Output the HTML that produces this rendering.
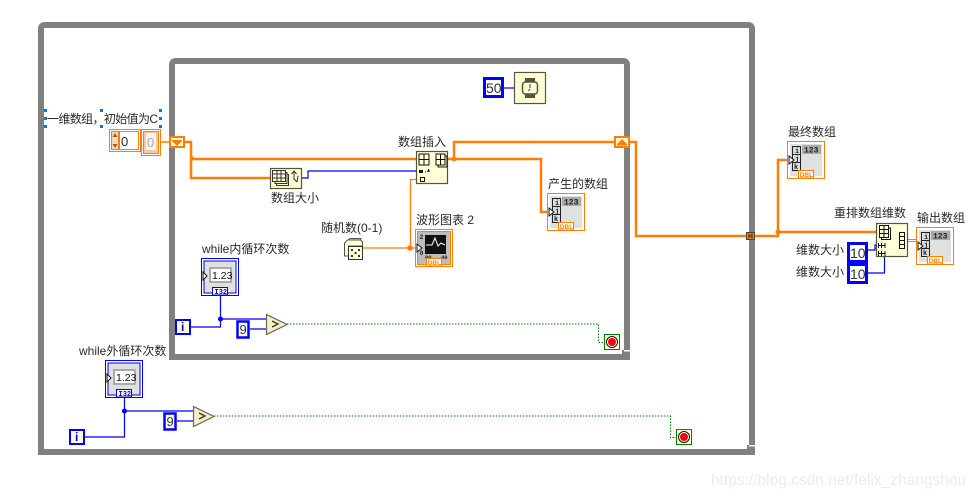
<!DOCTYPE html>
<html><head><meta charset="utf-8"><style>
html,body{margin:0;padding:0;background:#fff}
svg{display:block}
text{font-family:"Liberation Sans","Noto Sans CJK SC",sans-serif;font-size:12px;fill:#2a2a2a}
.o{fill:none;stroke:#ff8000}
.b{fill:none;stroke:#0000f0;stroke-width:1.2}
.g{fill:none;stroke:#008000;stroke-width:1;stroke-dasharray:1.5 1.5}
.n{fill:#ffffd8;stroke:#55553a;stroke-width:1.2}
.big{font-size:16px;fill:#333}
.c{fill:#fff;stroke:#0000ff;stroke-width:3}
.m{font-size:7px;font-weight:bold;font-family:"Liberation Mono",monospace;fill:#222}
.d{font-size:6.500px;font-weight:bold;fill:#ff8000}
</style></head><body>
<svg width="980" height="497" viewBox="0 0 980 497" xmlns="http://www.w3.org/2000/svg">
<rect width="980" height="497" fill="#fff"/>
<!-- frames -->
<path d="M41 452V29Q41 25 45 25H748Q752 25 752 29V445" fill="none" stroke="#808080" stroke-width="6"/>
<path d="M38 452H755" stroke="#808080" stroke-width="6"/>
<rect x="747" y="445" width="8" height="4" fill="#808080"/>
<rect x="749" y="445" width="6" height="1.500" fill="#fff"/>
<path d="M172 357V65Q172 61 176 61H623Q627 61 627 65V350" fill="none" stroke="#808080" stroke-width="6"/>
<path d="M169 357H630" stroke="#808080" stroke-width="6"/>
<rect x="622" y="350" width="8" height="4" fill="#808080"/>
<rect x="624" y="350" width="6" height="1.500" fill="#fff"/>

<!-- orange wires -->
<path class="o" stroke-width="1.500" d="M161 142H169"/>
<path class="o" stroke-width="2.500" d="M185 142H191V178H270M191 159H416"/>
<circle cx="192" cy="158.500" r="2.200" fill="#ff8000"/>
<path class="o" stroke-width="2.500" d="M448 159H541V212H550M454 159V142H614M630 142H636V236H746M755 236H778V160H790M778 232H876"/>
<circle cx="454" cy="159" r="2.500" fill="#ff8000"/>
<circle cx="778" cy="232" r="2.500" fill="#ff8000"/>
<path class="o" stroke-width="1.300" d="M363 248H415M410.500 248V179.500H416"/>
<circle cx="410" cy="248" r="2.800" fill="#ff8000"/>
<path class="o" stroke-width="1" d="M908 239.500H916M908 241.500H916"/>

<!-- blue wires -->
<path class="b" d="M302 178H308V171H416"/>
<path class="b" d="M504 88H514"/>
<path class="b" d="M868 250H875V245H877M868 273H884.500V257"/>
<path class="b" d="M191 327H220.500V296M220 319H266M250 329H266"/>
<circle cx="220.500" cy="319" r="2.500" fill="#0000f0"/>
<path class="b" d="M85 437H124.500V398M124 411H193M177 421H193"/>
<circle cx="124.500" cy="411" r="2.500" fill="#0000f0"/>

<!-- green wires -->
<path class="g" d="M287 324H598.500V342.500H604"/>
<path class="g" d="M214 416H670.500V437.500H676"/>

<!-- label 1 with selection handles -->
<text x="47" y="123" textLength="111" lengthAdjust="spacing">一维数组，初始值为C</text>
<g fill="#0a78d7"><rect x="44" y="109" width="3" height="3"/><rect x="44" y="117" width="3" height="3"/><rect x="44" y="125" width="3" height="3"/><rect x="100" y="109" width="3" height="3"/><rect x="100" y="125" width="3" height="3"/><rect x="159" y="109" width="3" height="3"/><rect x="159" y="117" width="3" height="3"/><rect x="159" y="125" width="3" height="3"/></g>

<!-- array constant -->
<rect x="109.500" y="129.500" width="31" height="22" fill="#fff" stroke="#ff8000"/>
<rect x="111.500" y="131.500" width="7" height="18" fill="#f6d9b8" stroke="#ff8000"/>
<path d="M115 133l2.500 4h-5zM115 148l2.500-4h-5z" fill="#a06020"/>
<rect x="119.500" y="131.500" width="19" height="18" fill="#fff" stroke="#ff8000"/>
<text x="121" y="146" style="font-size:13px">0</text>
<rect x="141.500" y="129.500" width="19" height="26" fill="#fff" stroke="#ff8000"/>
<rect x="143.500" y="131.500" width="15" height="22" fill="#f8c89a" stroke="#ff8000"/>
<rect x="146" y="133" width="10" height="17" fill="#f4f4f4"/>
<text x="147" y="147" style="font-size:13px;fill:#aaa">0</text>

<!-- tunnels -->
<rect x="170" y="137" width="14" height="10" fill="#ffffd8" stroke="#ff8000" stroke-width="2"/>
<path d="M172 141h10l-5 5z" fill="#ff8000"/><rect x="172" y="140" width="10" height="1.500" fill="#ff8000"/>
<rect x="615" y="137" width="14" height="10" fill="#ffffd8" stroke="#ff8000" stroke-width="2"/>
<path d="M617 144h10l-5-5z" fill="#ff8000"/><rect x="617" y="144" width="10" height="1.500" fill="#ff8000"/>
<rect x="746.500" y="232.500" width="8" height="7" fill="#ff8000" stroke="#444" stroke-width="1"/>
<path d="M749 233.500v5M752 233.500v5M749 236h3" stroke="#222" stroke-width="1"/>

<!-- array size -->
<rect class="n" x="270.500" y="168.500" width="31" height="20"/>
<path d="M272.500 170.500h13v11h-13zM272.500 174h13M272.500 178h13M277 170.500v11M281 170.500v11" fill="none" stroke="#333"/>
<path d="M285.500 172.500h1.500v11h-12v-2M287 174.500h1.500v11h-12v-2" fill="none" stroke="#333"/>
<path d="M294 171v8l3 3M298 176l-1 6M291.500 174l2.500-3 2.500 3" fill="none" stroke="#333"/>
<text x="271" y="202">数组大小</text>

<!-- insert -->
<text x="398" y="146">数组插入</text>
<rect class="n" x="416.500" y="151.500" width="31" height="32"/>
<path d="M419 154h10v11h-10zM419 159.500h10M424 154v11" fill="none" stroke="#111"/>
<path d="M436 154h9v11h-9zM436 159.500h9M440.500 154v11M445 156h2v11h-9v-2" fill="none" stroke="#111"/>
<rect x="419" y="170" width="4" height="3" fill="#111"/><path d="M425 172h1M427 171h3M428.500 169v3" stroke="#111"/>
<rect x="420.500" y="177.500" width="4" height="4" fill="none" stroke="#111"/>

<!-- timer -->
<rect class="c" x="484.500" y="78.500" width="18" height="18"/>
<text x="486" y="93" class="big" style="font-size:14px">50</text>
<rect class="n" x="514.500" y="72.500" width="31" height="31"/>
<path d="M525 78h10v5h-10zM525 93h10v5h-10z" fill="#55553a"/>
<rect x="522.500" y="82" width="15" height="12" rx="3" fill="#ffffd8" stroke="#55553a" stroke-width="1.500"/>
<path d="M530 84v4M530 89l-1.500 2" fill="none" stroke="#333"/>

<!-- indicator: 产生的数组 -->
<text x="548" y="188">产生的数组</text>
<g transform="translate(547,193)">
<rect x=".5" y=".5" width="37" height="37" fill="#fff" stroke="#ff8000"/>
<rect x="3" y="3" width="32" height="32" fill="#e0e0e0"/>
<rect x="15" y="4" width="19" height="9" fill="#aaa"/><text x="17" y="11.500" class="m" style="font-size:8px">123</text>
<rect x="5.500" y="5.500" width="8" height="8" fill="#ddd" stroke="#222"/><rect x="5.500" y="13.500" width="8" height="8" fill="#ddd" stroke="#222"/><rect x="5.500" y="21.500" width="8" height="8" fill="#ddd" stroke="#222"/>
<text x="8" y="12" class="m">i</text><text x="8" y="20" class="m">j</text><text x="7" y="28" class="m">k</text>
<path d="M2 15l5 4-5 4z" fill="#fff" stroke="#111"/>
<rect x="11.500" y="29.500" width="15" height="7.500" fill="#fff" stroke="#ff8000"/><text x="12.700" y="36" class="d">DBL</text>
</g>

<!-- indicator: 最终数组 -->
<text x="788" y="136">最终数组</text>
<g transform="translate(787,141)">
<rect x=".5" y=".5" width="37" height="37" fill="#fff" stroke="#ff8000"/>
<rect x="3" y="3" width="32" height="32" fill="#e0e0e0"/>
<rect x="15" y="4" width="19" height="9" fill="#aaa"/><text x="17" y="11.500" class="m" style="font-size:8px">123</text>
<rect x="5.500" y="5.500" width="8" height="8" fill="#ddd" stroke="#222"/><rect x="5.500" y="13.500" width="8" height="8" fill="#ddd" stroke="#222"/><rect x="5.500" y="21.500" width="8" height="8" fill="#ddd" stroke="#222"/>
<text x="8" y="12" class="m">i</text><text x="8" y="20" class="m">j</text><text x="7" y="28" class="m">k</text>
<path d="M2 15l5 4-5 4z" fill="#fff" stroke="#111"/>
<rect x="11.500" y="29.500" width="15" height="7.500" fill="#fff" stroke="#ff8000"/><text x="12.700" y="36" class="d">DBL</text>
</g>

<!-- indicator: 输出数组 -->
<text x="917" y="222">输出数组</text>
<g transform="translate(916,227)">
<rect x=".5" y=".5" width="37" height="37" fill="#fff" stroke="#ff8000"/>
<rect x="3" y="3" width="32" height="32" fill="#e0e0e0"/>
<rect x="15" y="4" width="19" height="9" fill="#aaa"/><text x="17" y="11.500" class="m" style="font-size:8px">123</text>
<rect x="5.500" y="5.500" width="8" height="8" fill="#ddd" stroke="#222"/><rect x="5.500" y="13.500" width="8" height="8" fill="#ddd" stroke="#222"/><rect x="5.500" y="21.500" width="8" height="8" fill="#ddd" stroke="#222"/>
<text x="8" y="12" class="m">i</text><text x="8" y="20" class="m">j</text><text x="7" y="28" class="m">k</text>
<path d="M2 15l5 4-5 4z" fill="#fff" stroke="#111"/>
<rect x="11.500" y="29.500" width="15" height="7.500" fill="#fff" stroke="#ff8000"/><text x="12.700" y="36" class="d">DBL</text>
</g>

<!-- waveform chart -->
<text x="416" y="224">波形图表 2</text>
<g transform="translate(415,229)">
<rect x=".5" y=".5" width="37" height="37" fill="#fff" stroke="#ff8000"/>
<rect x="2.500" y="2.500" width="33" height="33" fill="#bdbdbd" stroke="#ff8000"/>
<rect x="10" y="6" width="21" height="19" fill="#111"/>
<path d="M11 16h6l3-7 3 8 3-3 4 2" fill="none" stroke="#fff"/>
<path d="M2 15l5 4-5 4z" fill="#fff" stroke="#111"/>
<text x="4.500" y="10" class="m" style="font-size:6.500px">2</text><text x="4.500" y="26" class="m" style="font-size:6.500px">0</text>
<text x="10" y="30" class="m" style="font-size:5.500px">00</text><text x="26" y="30" class="m" style="font-size:5.500px">40</text>
<rect x="11.500" y="29.500" width="15" height="7.500" fill="#fff" stroke="#ff8000"/><text x="12.700" y="36" class="d">DBL</text>
</g>

<!-- random -->
<text x="321" y="232">随机数(0-1)</text>
<path d="M344.500 243l3-3h13l2 2v4h-14v10h-4z" fill="#ffffd8" stroke="#555"/>
<path d="M348 240l2-1.500h11l-1 1.500z" fill="#e8e4b8" stroke="#555"/>
<rect x="348.500" y="246.500" width="14" height="13" fill="#ffffd8" stroke="#333"/>
<circle cx="352" cy="250" r="1.100" fill="#222"/><circle cx="355.500" cy="253" r="1.100" fill="#222"/><circle cx="359" cy="256" r="1.100" fill="#222"/><circle cx="352" cy="256" r="1.100" fill="#222"/><circle cx="359" cy="250" r="1.100" fill="#222"/>

<!-- reshape -->
<text x="834" y="217">重排数组维数</text>
<rect class="n" x="876.500" y="223.500" width="31" height="33"/>
<path d="M879.500 225.500h9v12h-9zM879.500 229.500h9M879.500 233.500h9M884 225.500v12M888.500 228h2v11.500h-9v-2" fill="none" stroke="#111"/>
<rect x="899.500" y="232.500" width="5" height="4" fill="#ffffd8" stroke="#111"/><rect x="899.500" y="236.500" width="5" height="4" fill="#ffffd8" stroke="#111"/><rect x="899.500" y="240.500" width="5" height="4" fill="#ffffd8" stroke="#111"/><rect x="899.500" y="244.500" width="5" height="4" fill="#ffffd8" stroke="#111"/>
<path d="M878 245.500h7M878.500 243v5M881.500 243v5M885 243v5M878 253.500h7M878.500 251v5M881.500 251v5M885 251v5" stroke="#111" fill="none"/>

<text x="796" y="254">维数大小</text>
<text x="796" y="276">维数大小</text>
<rect class="c" x="848.500" y="243.500" width="18" height="18"/>
<text x="850" y="258" class="big" style="font-size:14px">10</text>
<rect class="c" x="848.500" y="264.500" width="18" height="18"/>
<text x="850" y="279" class="big" style="font-size:14px">10</text>

<!-- while inner -->
<text x="202" y="253">while内循环次数</text>
<g transform="translate(201,258)">
<rect x=".5" y=".5" width="37" height="37" fill="#fff" stroke="#0000f0"/>
<rect x="3" y="3" width="32" height="32" fill="#e0e0e0" stroke="#0000f0"/>
<rect x="9" y="10" width="21" height="14" fill="#fff" stroke="#aaa" stroke-width="2"/>
<text x="11" y="21" style="font-size:10.500px;fill:#111">1.23</text>
<path d="M2 14l4 4-4 4z" fill="#fff" stroke="#111"/>
<rect x="11.500" y="29.500" width="15" height="7.500" fill="#fff" stroke="#0000f0"/><text x="13.500" y="36" class="m" style="fill:#0000c0;font-size:7px">I32</text>
</g>
<rect x="176" y="320" width="14" height="14" fill="#ffffd8" stroke="#0000ff" stroke-width="2"/>
<text x="181" y="331" style="font-size:12px;font-weight:bold;fill:#0000e0">i</text>
<rect class="c" x="237.500" y="321.500" width="11" height="16" style="stroke-width:2.500"/>
<text x="239.500" y="334" class="big" style="font-size:13px">9</text>
<path d="M266.500 314.500V334.500L287 324.500Z" fill="#f5f0c0" stroke="#666" stroke-width="1.200"/>
<path d="M272 321l6 3-6 3" fill="none" stroke="#333" stroke-width="1.300"/>

<!-- while outer -->
<text x="79" y="355">while外循环次数</text>
<g transform="translate(105,360)">
<rect x=".5" y=".5" width="37" height="37" fill="#fff" stroke="#0000f0"/>
<rect x="3" y="3" width="32" height="32" fill="#e0e0e0" stroke="#0000f0"/>
<rect x="9" y="10" width="21" height="14" fill="#fff" stroke="#aaa" stroke-width="2"/>
<text x="11" y="21" style="font-size:10.500px;fill:#111">1.23</text>
<path d="M2 14l4 4-4 4z" fill="#fff" stroke="#111"/>
<rect x="11.500" y="29.500" width="15" height="7.500" fill="#fff" stroke="#0000f0"/><text x="13.500" y="36" class="m" style="fill:#0000c0;font-size:7px">I32</text>
</g>
<rect x="70" y="430" width="14" height="14" fill="#ffffd8" stroke="#0000ff" stroke-width="2"/>
<text x="75" y="441" style="font-size:12px;font-weight:bold;fill:#0000e0">i</text>
<rect class="c" x="164.500" y="413.500" width="11" height="16" style="stroke-width:2.500"/>
<text x="166.500" y="426" class="big" style="font-size:13px">9</text>
<path d="M193.500 406.500V426.500L214 416.500Z" fill="#f5f0c0" stroke="#666" stroke-width="1.200"/>
<path d="M199 413l6 3-6 3" fill="none" stroke="#333" stroke-width="1.300"/>

<!-- stops -->
<rect x="604.500" y="334.500" width="15" height="15" fill="#ffffd8" stroke="#008000"/>
<circle cx="612" cy="342" r="5.500" fill="#fff" stroke="#111"/><circle cx="612" cy="342" r="4" fill="#f00"/>
<rect x="676.500" y="429.500" width="15" height="15" fill="#ffffd8" stroke="#008000"/>
<circle cx="684" cy="437" r="5.500" fill="#fff" stroke="#111"/><circle cx="684" cy="437" r="4" fill="#f00"/>

<!-- watermark -->
<text x="711" y="485" style="font-size:15.500px;fill:#ececec;font-family:'Liberation Sans',sans-serif">https://blog.csdn.net/felix_zhangshou</text>
</svg>
</body></html>
